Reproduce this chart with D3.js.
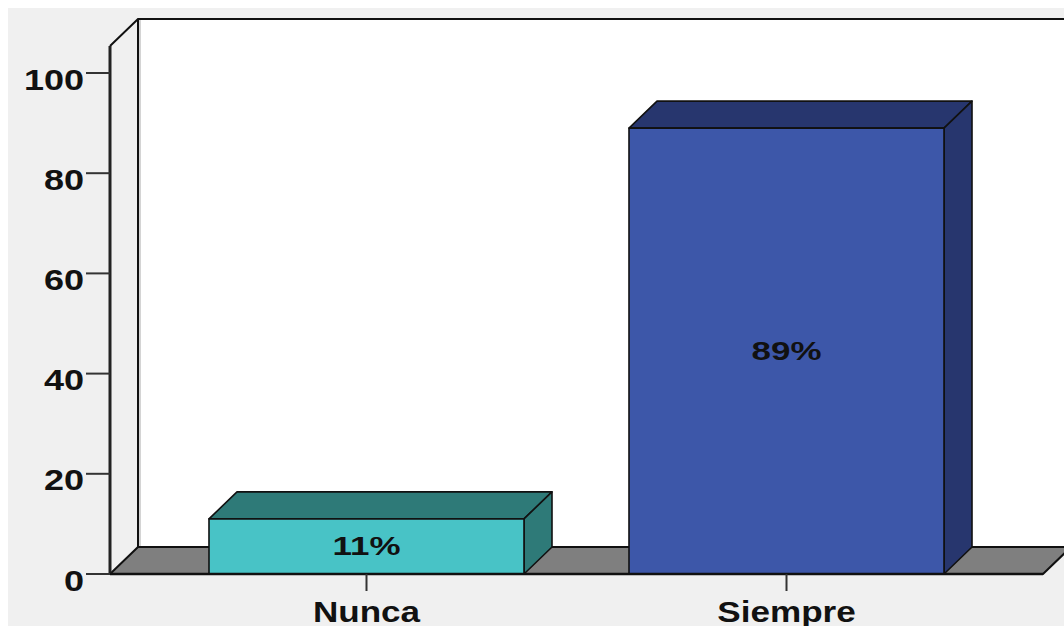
<!DOCTYPE html>
<html>
<head>
<meta charset="utf-8">
<script src="https://cdn.jsdelivr.net/npm/d3@7"></script>
<style>
  html, body { margin: 0; padding: 0; background: #ffffff; }
  svg { display: block; }
  text { font-family: "Liberation Sans", Arial, sans-serif; font-weight: bold; fill: #111; }
</style>
</head>
<body>
<svg id="chart" width="1064" height="626"></svg>
<script>
// Response categories and their percentages
const categories = ["Nunca", "Siempre"];
const percentages = [11, 89];
const yTicks = [0, 20, 40, 60, 80, 100];

// Face colours per category: front, top/side
const frontColors = ["#48c3c6", "#3d57a9"];
const shadeColors = ["#2e7a78", "#27366e"];

const W = 1064, H = 626;
const depthX = 28, depthY = 27;          // 3D offset of the back plane
const floorY = 574;

const svg = d3.select("#chart");

const x = d3.scaleBand()
  .domain(categories)
  .range([110, 1043])
  .paddingInner(0.25)
  .paddingOuter(0.2357);

const y = d3.scaleLinear()
  .domain([0, 100])
  .range([floorY, 73]);

const yTop = y.invert(46);   // top of the front axis line

// Panel background
svg.append("rect").attr("x", 8).attr("y", 8).attr("width", W - 8).attr("height", H - 8)
  .attr("fill", "#f0f0f0");

const x0 = x.range()[0], x1 = x.range()[1];

// Back wall
svg.append("rect")
  .attr("x", x0 + depthX).attr("y", y(yTop) - depthY)
  .attr("width", x1 - x0 + 40).attr("height", (floorY - depthY) - (y(yTop) - depthY))
  .attr("fill", "#ffffff");
svg.append("line")
  .attr("x1", x0 + depthX + 2).attr("x2", x0 + depthX + 2)
  .attr("y1", y(yTop) - depthY).attr("y2", floorY - depthY)
  .attr("stroke", "#d4d4d4").attr("stroke-width", 2);

// Floor
svg.append("path")
  .attr("d", d3.line()([[x0, floorY], [x0 + depthX, floorY - depthY], [x1 + depthX, floorY - depthY], [x1, floorY]]) + "Z")
  .attr("fill", "#7f7f7f").attr("stroke", "#111").attr("stroke-width", 2).attr("stroke-linejoin", "round");

// Wall outlines
svg.append("path")
  .attr("d", d3.line()([[x0, y(yTop)], [x0 + depthX, y(yTop) - depthY], [x1 + 60, y(yTop) - depthY]]))
  .attr("fill", "none").attr("stroke", "#111").attr("stroke-width", 2);
svg.append("line")
  .attr("x1", x0 + depthX).attr("x2", x0 + depthX)
  .attr("y1", y(yTop) - depthY).attr("y2", floorY - depthY)
  .attr("stroke", "#111").attr("stroke-width", 2);

// Bars
const bars = svg.append("g").selectAll("g").data(categories).join("g");
bars.each(function (c, i) {
  const g = d3.select(this);
  const bx0 = x(c), bx1 = x(c) + x.bandwidth();
  const by = y(percentages[i]);
  const edge = { stroke: "#111", "stroke-width": 1.6, "stroke-linejoin": "round" };
  const top = g.append("path")
    .attr("d", d3.line()([[bx0, by], [bx0 + depthX, by - depthY], [bx1 + depthX, by - depthY], [bx1, by]]) + "Z")
    .attr("fill", shadeColors[i]);
  const side = g.append("path")
    .attr("d", d3.line()([[bx1, by], [bx1 + depthX, by - depthY], [bx1 + depthX, floorY - depthY], [bx1, floorY]]) + "Z")
    .attr("fill", shadeColors[i]);
  const front = g.append("rect")
    .attr("x", bx0).attr("y", by).attr("width", bx1 - bx0).attr("height", floorY - by)
    .attr("fill", frontColors[i]);
  [top, side, front].forEach(s => Object.entries(edge).forEach(([k, v]) => s.attr(k, v)));

  // Value label in the middle of the front face
  const cx = (bx0 + bx1) / 2, cy = (by + floorY) / 2 + 9;
  g.append("text")
    .attr("transform", `translate(${cx},${cy}) scale(1.37,1)`)
    .attr("text-anchor", "middle")
    .attr("font-size", 25.5)
    .text(percentages[i] + "%");
});

// Front y axis line
svg.append("line")
  .attr("x1", x0).attr("x2", x0).attr("y1", y(yTop)).attr("y2", floorY)
  .attr("stroke", "#222").attr("stroke-width", 3);

// Y ticks and labels
const yt = svg.append("g").selectAll("g").data(yTicks).join("g");
yt.append("line")
  .attr("x1", x0 - 24).attr("x2", x0).attr("y1", d => y(d)).attr("y2", d => y(d))
  .attr("stroke", "#333").attr("stroke-width", 2);
yt.append("text")
  .attr("transform", d => `translate(${x0 - 26},${y(d) + 16.5}) scale(1.2,1)`)
  .attr("text-anchor", "end")
  .attr("font-size", 30)
  .text(d => d);

// Bottom line under the floor front edge
svg.append("line")
  .attr("x1", x0).attr("x2", x1).attr("y1", floorY).attr("y2", floorY)
  .attr("stroke", "#111").attr("stroke-width", 2.5);

// X ticks and category labels
const xt = svg.append("g").selectAll("g").data(categories).join("g");
xt.append("line")
  .attr("x1", d => x(d) + x.bandwidth() / 2).attr("x2", d => x(d) + x.bandwidth() / 2)
  .attr("y1", floorY).attr("y2", floorY + 17)
  .attr("stroke", "#333").attr("stroke-width", 2);
xt.append("text")
  .attr("transform", d => `translate(${x(d) + x.bandwidth() / 2},622) scale(1.17,1)`)
  .attr("text-anchor", "middle")
  .attr("font-size", 30)
  .text(d => d);
</script>
</body>
</html>
